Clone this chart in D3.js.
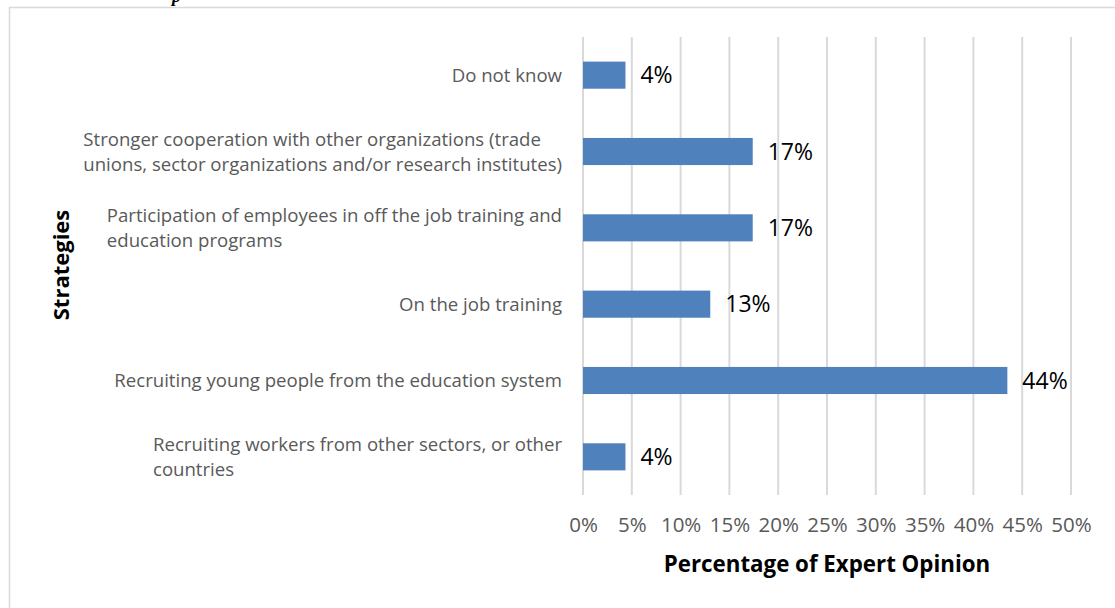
<!DOCTYPE html>
<html>
<head>
<meta charset="utf-8">
<script src="https://cdn.jsdelivr.net/npm/d3@7"></script>
<style>
  html, body { margin: 0; padding: 0; background: #fff; }
  svg { display: block; }
</style>
</head>
<body>
<svg id="chart" width="1115" height="608"></svg>
<script>
// Strategies to address skill shortages, share of expert responses
const categories = [
  "Do not know",
  "Stronger cooperation with other organizations (trade|unions, sector organizations and/or research institutes)",
  "Participation of employees in off the job training and|education programs",
  "On the job training",
  "Recruiting young people from the education system",
  "Recruiting workers from other sectors, or other|countries"
];
const values = [4.35, 17.39, 17.39, 13.04, 43.48, 4.35];
const valueLabels = ["4%", "17%", "17%", "13%", "44%", "4%"];
const tickValues = [0, 5, 10, 15, 20, 25, 30, 35, 40, 45, 50];
const xTitle = "Percentage of Expert Opinion";
const yTitle = "Strategies";

const svg = d3.select("#chart");
const FONT = "'Open Sans', sans-serif";

// chart frame
svg.append("rect")
  .attr("x", 9.5).attr("y", 7.5)
  .attr("width", 1120).attr("height", 620)
  .attr("fill", "#fff")
  .attr("stroke", "#d9d9d9").attr("stroke-width", 1.5);

// caption glyph above the frame
svg.append("text")
  .attr("x", 172).attr("y", 2)
  .attr("font-family", "'Liberation Serif', serif")
  .attr("font-style", "italic").attr("font-weight", "bold")
  .attr("font-size", 18).attr("fill", "#000")
  .text("p");

const plot = { left: 583, right: 1071, top: 37, bottom: 495 };

const x = d3.scaleLinear().domain([0, 50]).range([plot.left, plot.right]);
const y = d3.scaleBand().domain(categories)
  .range([plot.top, plot.bottom]).paddingInner(0.645).paddingOuter(0.3225);

// vertical gridlines
svg.append("g").selectAll("line").data(tickValues).join("line")
  .attr("x1", d => x(d)).attr("x2", d => x(d))
  .attr("y1", plot.top).attr("y2", plot.bottom)
  .attr("stroke", "#d9d9d9").attr("stroke-width", 2);

// x axis tick labels
const xAxis = d3.axisBottom(x).tickValues(tickValues)
  .tickFormat(d => d + "%").tickSize(0).tickPadding(0);
const gx = svg.append("g").attr("transform", `translate(0,${plot.bottom + 22})`).call(xAxis);
gx.select(".domain").remove();
gx.selectAll("text")
  .attr("font-family", FONT).attr("font-size", 20.5)
  .attr("fill", "#595959");

// bars
svg.append("g").selectAll("rect").data(categories).join("rect")
  .attr("x", x(0))
  .attr("y", d => y(d))
  .attr("width", (d, i) => x(values[i]) - x(0))
  .attr("height", y.bandwidth())
  .attr("fill", "#4f81bd");

// value labels
svg.append("g").selectAll("text").data(categories).join("text")
  .attr("x", (d, i) => x(values[i]) + 15)
  .attr("y", d => y(d) + y.bandwidth() / 2)
  .attr("dy", "0.36em")
  .attr("font-family", FONT).attr("font-size", 23)
  .attr("fill", "#000")
  .text((d, i) => valueLabels[i]);

// category labels: block right-aligned to the axis, lines left-aligned inside
const labelRight = 562;
const lineH = 25;
const catG = svg.append("g");
categories.forEach(c => {
  const lines = c.split("|");
  const cy = y(c) + y.bandwidth() / 2;
  const t = catG.append("text")
    .attr("font-family", FONT).attr("font-size", 18.6)
    .attr("fill", "#595959");
  lines.forEach((ln, k) => {
    t.append("tspan")
      .attr("y", cy + (k - (lines.length - 1) / 2) * lineH)
      .attr("dy", "0.35em")
      .text(ln);
  });
  let maxW = 0;
  t.selectAll("tspan").each(function() {
    maxW = Math.max(maxW, this.getComputedTextLength());
  });
  t.selectAll("tspan").attr("x", labelRight - maxW);
});

// axis titles
svg.append("text")
  .attr("x", 827).attr("y", 572)
  .attr("text-anchor", "middle")
  .attr("font-family", FONT).attr("font-weight", "bold").attr("font-size", 22.3)
  .attr("fill", "#000").text(xTitle);

svg.append("text")
  .attr("transform", "translate(69,265) rotate(-90)")
  .attr("text-anchor", "middle")
  .attr("font-family", FONT).attr("font-weight", "bold").attr("font-size", 22)
  .attr("fill", "#000").text(yTitle);
</script>
</body>
</html>
